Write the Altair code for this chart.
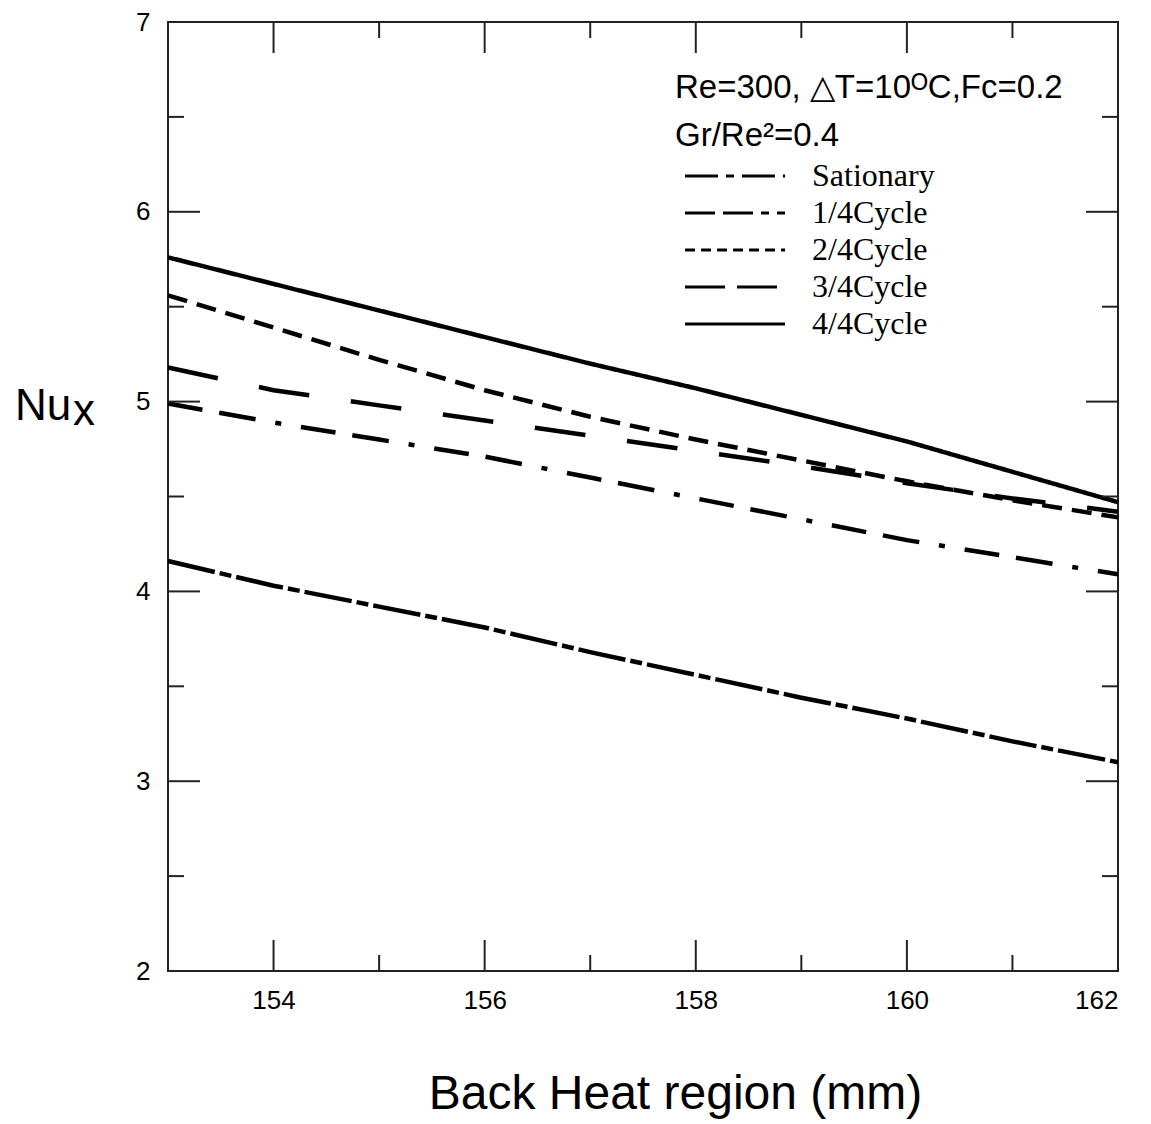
import altair as alt
import pandas as pd

# ---- data ----
series = ["Sationary", "1/4Cycle", "2/4Cycle", "3/4Cycle", "4/4Cycle"]
x_vals = [153, 154, 155, 156, 157, 158, 159, 160, 161, 162]
y_sationary = [4.16, 4.03, 3.92, 3.81, 3.68, 3.56, 3.44, 3.33, 3.21, 3.10]
y_q1 = [4.99, 4.89, 4.80, 4.71, 4.60, 4.49, 4.38, 4.27, 4.18, 4.09]
y_q2 = [5.56, 5.39, 5.22, 5.06, 4.92, 4.80, 4.69, 4.58, 4.48, 4.39]
y_q3 = [5.18, 5.06, 4.98, 4.90, 4.82, 4.74, 4.66, 4.57, 4.49, 4.42]
y_q4 = [5.76, 5.62, 5.48, 5.34, 5.20, 5.07, 4.93, 4.79, 4.63, 4.47]

x_tick_labels = [154, 156, 158, 160, 162]
y_tick_labels = [2, 3, 4, 5, 6, 7]
x_major_inner = [154, 156, 158, 160]
x_minor = [155, 157, 159, 161]
y_major_inner = [3, 4, 5, 6]
y_minor = [2.5, 3.5, 4.5, 5.5, 6.5]

header1 = "Re=300, \u25b3T=10\u1d3cC,Fc=0.2"
header2 = "Gr/Re\u00b2=0.4"
x_title = "Back Heat region (mm)"

# ---- styling ----
W, H = 950, 949
plot_dash = {
    "Sationary": [48, 5, 12, 5],
    "1/4Cycle": [35, 17, 37, 20, 6, 20],
    "2/4Cycle": [20, 10],
    "3/4Cycle": [51, 42],
    "4/4Cycle": [1, 0],
}
legend_dash = {
    "Sationary": [33, 8, 8, 8],
    "1/4Cycle": [30, 8, 30, 8, 8, 8],
    "2/4Cycle": [10, 6],
    "3/4Cycle": [40, 12],
    "4/4Cycle": [1, 0],
}

ys = [y_sationary, y_q1, y_q2, y_q3, y_q4]
rows = []
for s, yy in zip(series, ys):
    for xv, yv in zip(x_vals, yy):
        rows.append({"series": s, "x": xv, "y": yv})
df = pd.DataFrame(rows)

xscale = alt.Scale(domain=[153, 162], nice=False, zero=False)
yscale = alt.Scale(domain=[2, 7], nice=False, zero=False)

xaxis = alt.Axis(values=x_tick_labels, format="d", grid=False, ticks=False, tickSize=0, domain=False,
                 labelFont="Liberation Sans", labelFontSize=26, labelColor="black",
                 labelPadding=16, title=x_title, titleFont="Liberation Sans",
                 titleFontSize=48, titleFontWeight="normal", titleColor="black",
                 titleX=507, titleY=137, titleBaseline="alphabetic", titleAlign="center")
yaxis = alt.Axis(values=y_tick_labels, format="d", grid=False, ticks=False, tickSize=0, domain=False,
                 labelFont="Liberation Sans", labelFontSize=26, labelColor="black",
                 labelPadding=18, title=None)

lines = alt.Chart(df).mark_line(strokeWidth=4.5, color="black", strokeCap="butt").encode(
    x=alt.X("x:Q", scale=xscale, axis=xaxis),
    y=alt.Y("y:Q", scale=yscale, axis=yaxis),
    strokeDash=alt.StrokeDash("series:N",
                              scale=alt.Scale(domain=series, range=[plot_dash[s] for s in series]),
                              legend=None),
    detail="series:N",
)

tick_color = "#222222"
def tick_layer(vals, along, fixed0, fixed1):
    d = pd.DataFrame({"t": vals})
    m = alt.Chart(d).mark_rule(color=tick_color, strokeWidth=2)
    if along == "x":
        return m.encode(x=alt.X("t:Q", scale=xscale), y=alt.value(fixed0), y2=alt.value(fixed1))
    return m.encode(y=alt.Y("t:Q", scale=yscale), x=alt.value(fixed0), x2=alt.value(fixed1))

ticks = [
    tick_layer(x_major_inner, "x", H, H - 31),
    tick_layer(x_minor, "x", H, H - 16),
    tick_layer(x_major_inner, "x", 0, 31),
    tick_layer(x_minor, "x", 0, 16),
    tick_layer(y_major_inner, "y", 0, 32),
    tick_layer(y_minor, "y", 0, 16),
    tick_layer(y_major_inner, "y", W, W - 32),
    tick_layer(y_minor, "y", W, W - 16),
]

# ---- manual legend ----
legend_layers = []
leg_y0, leg_dy = 154, 37
for i, s in enumerate(series):
    yy = leg_y0 + i * leg_dy
    legend_layers.append(
        alt.Chart(pd.DataFrame({"s": [s]})).mark_rule(color="black", strokeWidth=3,
                                                      strokeDash=legend_dash[s], strokeCap="butt").encode(
            x=alt.value(517), x2=alt.value(617), y=alt.value(yy))
    )
    legend_layers.append(
        alt.Chart(pd.DataFrame({"s": [s]})).mark_text(font="Liberation Serif", fontSize=32, align="left",
                                                      baseline="middle", color="black").encode(
            x=alt.value(644), y=alt.value(yy), text="s:N")
    )

hdr_layers = []
for txt, yy in [(header1, 66), (header2, 114)]:
    hdr_layers.append(
        alt.Chart(pd.DataFrame({"h": [txt]})).mark_text(
            font="Liberation Sans", fontSize=33, align="left", baseline="middle", color="black").encode(
            x=alt.value(507), y=alt.value(yy), text="h:N")
    )

nu = alt.Chart(pd.DataFrame({"t": ["Nu"]})).mark_text(
    font="Liberation Sans", fontSize=44, align="left", baseline="alphabetic", color="black").encode(
    x=alt.value(-153), y=alt.value(398), text="t:N")
nux = alt.Chart(pd.DataFrame({"t": ["x"]})).mark_text(
    font="Liberation Sans", fontSize=44, align="left", baseline="alphabetic", color="black").encode(
    x=alt.value(-95), y=alt.value(403), text="t:N")

chart = alt.layer(
    lines, *ticks, *hdr_layers, nu, nux, *legend_layers
).properties(
    width=W, height=H,
    autosize=alt.AutoSizeParams(type="none"),
    padding={"left": 160, "top": 14, "right": 25, "bottom": 150},
    background="white",
).configure_view(stroke="#222222", strokeWidth=2)

chart.save("out.html", embed_options={"renderer": "svg", "actions": False})
